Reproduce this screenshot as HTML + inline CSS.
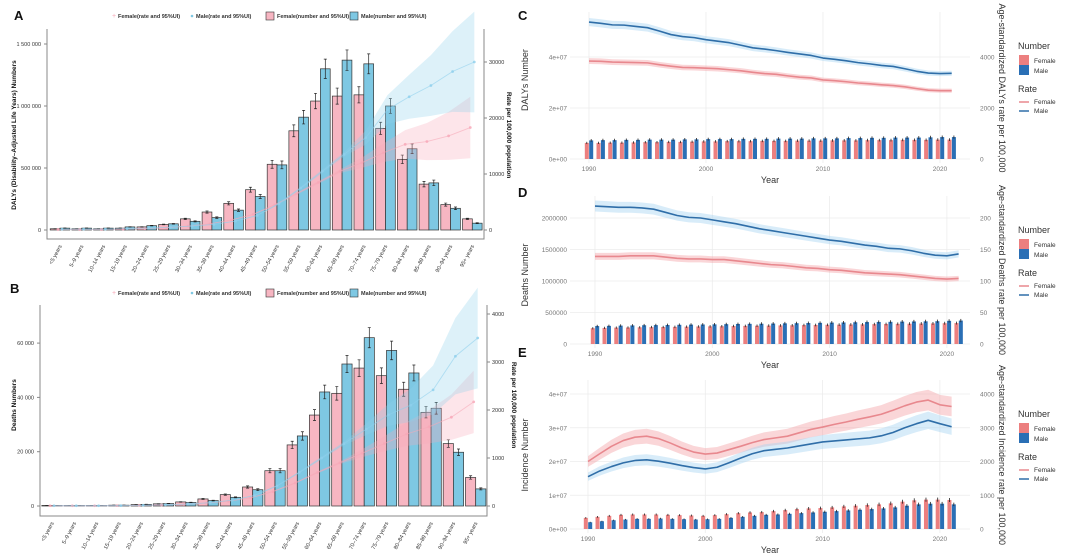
<!DOCTYPE html>
<html><head><meta charset="utf-8">
<style>
html,body{margin:0;padding:0;background:#fff;}
svg{display:block;font-family:"Liberation Sans",Arial,sans-serif;}
</style></head>
<body>
<svg id="fig" width="1080" height="559" viewBox="0 0 1080 559" xmlns="http://www.w3.org/2000/svg"></svg>
<script>
// ---------- Data: panels A & B (age groups) ----------
const ageLabels = ["<5 years","5–9 years","10–14 years","15–19 years","20–24 years","25–29 years","30–34 years","35–39 years","40–44 years","45–49 years","50–54 years","55–59 years","60–64 years","65–69 years","70–74 years","75–79 years","80–84 years","85–89 years","90–94 years","95+ years"];
const dalyFemaleNum = [10,10,10,15,25,45,90,145,215,325,530,800,1040,1080,1090,820,570,370,205,90]; // thousands
const dalyMaleNum   = [15,15,15,25,35,50,70,100,160,270,525,910,1300,1370,1340,1000,655,380,175,55];
const dalyFemaleRate = [100,100,100,150,250,400,700,1100,1800,2800,4500,6500,8500,10500,12000,13800,15300,15800,16800,18300];
const dalyMaleRate   = [150,150,150,250,350,500,700,1000,1600,2600,4700,7500,10500,13500,16500,21500,23800,25800,28300,30000];
const deathFemaleNum = [0.2,0.2,0.2,0.3,0.5,0.8,1.5,2.6,4.2,7,13,22.5,33.5,41.5,50.8,48,43,34.5,23,10.5]; // thousands
const deathMaleNum   = [0.2,0.2,0.2,0.3,0.6,0.9,1.3,2,3.2,6,13,25.8,42,52.3,62,57.3,49,36,19.8,6.3];
const deathFemaleRate = [5,5,5,8,12,20,35,60,100,170,300,480,700,900,1100,1300,1500,1650,1850,2170];
const deathMaleRate   = [5,5,5,8,15,25,40,70,120,220,420,700,1000,1300,1600,1900,2100,2420,3120,3500];
const dalyLeftTicks = [0,500000,1000000,1500000];
const dalyLeftTickLabels = ["0","500 000","1 000 000","1 500 000"];
const dalyRightTicks = [0,10000,20000,30000];
const deathLeftTicks = [0,20000,40000,60000];
const deathLeftTickLabels = ["0","20 000","40 000","60 000"];
const deathRightTicks = [0,1000,2000,3000,4000];

// ---------- Data: panels C, D, E (years 1990-2021) ----------
const years = [1990,1991,1992,1993,1994,1995,1996,1997,1998,1999,2000,2001,2002,2003,2004,2005,2006,2007,2008,2009,2010,2011,2012,2013,2014,2015,2016,2017,2018,2019,2020,2021];
const cMaleRate   = [5370,5320,5260,5250,5200,5150,5020,4880,4800,4760,4680,4620,4560,4460,4360,4310,4250,4180,4120,4060,3960,3910,3850,3780,3730,3670,3630,3540,3440,3370,3350,3360];
const cFemaleRate = [3840,3830,3800,3790,3780,3770,3700,3640,3590,3580,3560,3540,3500,3460,3400,3350,3320,3260,3210,3180,3100,3070,3030,2980,2950,2910,2880,2830,2760,2700,2680,2680];
const cFemaleNum  = [6.3,6.3,6.4,6.4,6.5,6.6,6.6,6.7,6.7,6.8,6.9,6.9,7.0,7.0,7.0,7.1,7.1,7.1,7.2,7.2,7.2,7.3,7.3,7.3,7.4,7.4,7.4,7.5,7.5,7.5,7.6,7.6]; // millions
const cMaleNum    = [7.3,7.4,7.4,7.5,7.5,7.6,7.6,7.6,7.7,7.7,7.8,7.8,7.8,7.9,7.9,7.9,8.0,8.0,8.0,8.1,8.1,8.1,8.2,8.2,8.3,8.3,8.4,8.4,8.4,8.5,8.6,8.6];
const dMaleRate   = [219,218,217,217,216,214,209,204,201,200,197,194,191,187,183,180,177,174,171,168,165,163,160,157,155,152,151,148,144,141,140,143];
const dFemaleRate = [139,139,139,140,140,140,138,136,135,135,134,134,132,130,128,126,125,123,121,120,118,117,115,113,112,111,110,108,106,104,103,104];
const dFemaleNum  = [250,255,260,262,265,268,270,272,275,278,280,282,285,287,290,292,295,297,300,302,305,307,310,312,315,318,320,322,325,327,330,332]; // thousands
const dMaleNum    = [285,288,292,295,298,300,302,305,308,310,312,315,318,320,322,325,328,330,333,336,340,342,345,348,350,352,356,358,360,362,368,372];
const eFemaleRate = [2000,2230,2450,2620,2720,2750,2680,2550,2400,2280,2220,2250,2350,2450,2560,2650,2700,2750,2850,2950,3020,3100,3170,3250,3320,3400,3520,3650,3760,3820,3680,3630];
const eMaleRate   = [1550,1720,1850,1960,2030,2050,2010,1950,1880,1820,1780,1830,1960,2100,2230,2320,2360,2400,2460,2520,2580,2610,2640,2670,2700,2760,2860,3000,3120,3220,3120,3030];
const eFemaleNum  = [3.3,3.6,3.9,4.2,4.3,4.3,4.3,4.2,4.1,4.0,3.9,4.1,4.4,4.7,4.9,5.0,5.3,5.6,5.9,6.1,6.2,6.4,6.7,6.9,7.1,7.3,7.6,8.1,8.5,8.7,8.7,8.6]; // millions
const eMaleNum    = [2.0,2.3,2.6,2.8,3.0,3.0,3.1,3.0,2.9,2.8,2.9,3.0,3.3,3.6,3.9,4.2,4.3,4.5,4.7,4.9,5.1,5.3,5.5,5.7,5.9,6.1,6.4,6.9,7.3,7.5,7.5,7.3];
const yearTicks = [1990,2000,2010,2020];
const cLeftTickLabels = ["0e+00","2e+07","4e+07"];
const cRightTicks = [0,2000,4000];
const dLeftTickLabels = ["0","500000","1000000","1500000","2000000"];
const dRightTicks = [0,50,100,150,200];
const eLeftTickLabels = ["0e+00","1e+07","2e+07","3e+07","4e+07"];
const eRightTicks = [0,1000,2000,3000,4000];

const NS = "http://www.w3.org/2000/svg";
const svg = document.getElementById("fig");
function el(tag, attrs, parent, txt){
  const e = document.createElementNS(NS, tag);
  for (const k in attrs) e.setAttribute(k, attrs[k]);
  if (txt !== undefined) e.textContent = txt;
  (parent || svg).appendChild(e);
  return e;
}
function grp(name, parent){
  const g = document.createElementNS(NS, "g");
  
  
  (parent || svg).appendChild(g);
  return g;
}
function label(parent, x, y, t, size, opts){
  const o = opts || {};
  const e = el("text", {x:x, y:y, "font-size":size, fill:o.fill||"#333", "text-anchor":o.anchor||"start", "font-weight":o.bold?"bold":"normal"}, parent, t);
  if (o.rot !== undefined) e.setAttribute("transform", `rotate(${o.rot} ${x} ${y})`);
  
  
  return e;
}

// ---------- Age panels ----------
function agePanel(cfg){
  const g = grp(cfg.name);
  const xC = i => cfg.x0 + i*cfg.dx;
  const yL = v => cfg.y0 - v*cfg.kL;
  const yR = v => cfg.y0 - v*cfg.kR;
  const band = i => 0.03 + Math.max(0, i-13)*0.045;
  label(g, cfg.letterX, cfg.letterY, cfg.letter, 13, {fill:"#111", bold:true, name:'panel-letter'});
  const fr = el("path", {d:`M${cfg.fx0},${cfg.fy0}V${cfg.fy1}H${cfg.fx1}V${cfg.fy0}`, fill:"none", stroke:"#888", "stroke-width":1}, g);
  
  
  cfg.lTicks.forEach((t,i)=>{
    el("line",{x1:cfg.fx0-3,x2:cfg.fx0,y1:yL(t),y2:yL(t),stroke:"#888"},g);
    label(g, cfg.fx0-6, yL(t)+2, cfg.lLabels[i], 5.5, {anchor:"end", name:'y-tick-label'});
  });
  cfg.rTicks.forEach(t=>{
    el("line",{x1:cfg.fx1,x2:cfg.fx1+3,y1:yR(t),y2:yR(t),stroke:"#888"},g);
    label(g, cfg.fx1+5, yR(t)+2, String(t), 5.5, {name:'y2-tick-label'});
  });
  const bw = cfg.bw;
  ageLabels.forEach((a,i)=>{
    [[cfg.fNum[i],"#f7b6c2",-1,"bar-female"],[cfg.mNum[i],"#7ec8e3",0,"bar-male"]].forEach(([v,c,off,nm])=>{
      const x = xC(i) + off*bw;
      const r = el("rect",{x:x,y:yL(v),width:bw,height:cfg.y0-yL(v),fill:c,stroke:"#333","stroke-width":0.7},g);
      
      
      const e1 = yL(v*1.06), e2 = yL(v*0.94), cx = x+bw/2;
      el("path",{d:`M${cx},${e1}V${e2}M${cx-1.5},${e1}H${cx+1.5}M${cx-1.5},${e2}H${cx+1.5}`,stroke:"#222","stroke-width":0.7,fill:"none"},g);
    });
  });
  [[cfg.fRate,"#f7a8b8",-2,"female-rate"],[cfg.mRate,"#8fd0ec",2,"male-rate"]].forEach(([arr,c,off,nm])=>{
    let up="", lo="";
    arr.forEach((v,i)=>{ up += (i?"L":"M")+(xC(i)+off)+","+yR(v*(1+band(i))); });
    for(let i=arr.length-1;i>=0;i--) lo += "L"+(xC(i)+off)+","+yR(arr[i]*(1-band(i)));
    const rb = el("path",{d:up+lo+"Z",fill:c,opacity:0.3},g);
    
    
    let d=""; arr.forEach((v,i)=>{ d += (i?"L":"M")+(xC(i)+off)+","+yR(v); });
    const ln = el("path",{d:d,fill:"none",stroke:c,"stroke-width":0.9,opacity:0.6},g);
    
    
    arr.forEach((v,i)=>{
      const p = el("circle",{cx:xC(i)+off,cy:yR(v),r:1.4,fill:c,opacity:0.8},g);
      
      
    });
  });
  ageLabels.forEach((a,i)=>{
    label(g, xC(i)+2, cfg.fy1+7, a, 5.5, {anchor:"end", rot:-62, name:'x-tick-label'});
  });
  label(g, cfg.ltX, cfg.ltY, cfg.lTitle, 6.5, {anchor:"middle", rot:-90, bold:true, fill:"#111", name:'y-axis-title'});
  label(g, cfg.rtX, cfg.ltY, "Rate per 100,000 population", 6.5, {anchor:"middle", rot:90, bold:true, fill:"#111", name:'y2-axis-title'});
  const ly = cfg.legY;
  label(g, 112, ly+2, "+", 7, {fill:"#f7a8b8", name:'legend-marker'});
  label(g, 118, ly+2, "Female(rate and 95%UI)", 5.5, {bold:true, fill:"#333", name:'legend-entry'});
  el("circle",{cx:192,cy:ly,r:1.3,fill:"#7ec8e3"},g);
  label(g, 196, ly+2, "Male(rate and 95%UI)", 5.5, {bold:true, fill:"#333", name:'legend-entry'});
  el("rect",{x:266,y:ly-4,width:8,height:8,fill:"#f7b6c2",stroke:"#333","stroke-width":0.6},g);
  label(g, 277, ly+2, "Female(number and 95%UI)", 5.5, {bold:true, fill:"#333", name:'legend-entry'});
  el("rect",{x:350,y:ly-4,width:8,height:8,fill:"#7ec8e3",stroke:"#333","stroke-width":0.6},g);
  label(g, 361, ly+2, "Male(number and 95%UI)", 5.5, {bold:true, fill:"#333", name:'legend-entry'});
}

agePanel({name:"panel-a", letter:"A", letterX:14, letterY:20, x0:60, dx:21.7, bw:9.8, y0:230,
  kL:62/500000, kR:56/10000, fx0:47, fx1:484, fy0:29, fy1:239,
  fNum:dalyFemaleNum.map(v=>v*1000), mNum:dalyMaleNum.map(v=>v*1000), fRate:dalyFemaleRate, mRate:dalyMaleRate,
  lTicks:dalyLeftTicks, lLabels:dalyLeftTickLabels, rTicks:dalyRightTicks,
  lTitle:"DALYs (Disability–Adjusted Life Years) Numbers", ltX:16, ltY:135, rtX:507, legY:16});
agePanel({name:"panel-b", letter:"B", letterX:10, letterY:293, x0:52, dx:22.3, bw:10.2, y0:506,
  kL:54.3/20000, kR:48/1000, fx0:40, fx1:487, fy0:305, fy1:516,
  fNum:deathFemaleNum.map(v=>v*1000), mNum:deathMaleNum.map(v=>v*1000), fRate:deathFemaleRate, mRate:deathMaleRate,
  lTicks:deathLeftTicks, lLabels:deathLeftTickLabels, rTicks:deathRightTicks,
  lTitle:"Deaths Numbers", ltX:16, ltY:405, rtX:512, legY:293});

// ---------- Time panels ----------
function timePanel(cfg){
  const g = grp(cfg.name);
  const xY = y => cfg.x1990 + (y-1990)*cfg.kx;
  const yL = v => cfg.y0 - v*cfg.kL;
  const yR = v => cfg.y0 - v*cfg.kR;
  label(g, 518, cfg.letterY, cfg.letter, 13, {fill:"#111", bold:true, name:'panel-letter'});
  cfg.lVals.forEach((t,i)=>{
    el("line",{x1:cfg.gx0,x2:cfg.gx1,y1:yL(t),y2:yL(t),stroke:"#ececec","stroke-width":0.8},g);
    label(g, 567, yL(t)+2.5, cfg.lLabels[i], 6.5, {anchor:"end", fill:"#777", name:'y-tick-label'});
  });
  cfg.rTicks.forEach(t=>label(g, 980, yR(t)+2.5, String(t), 6.5, {fill:"#777", name:'y2-tick-label'}));
  yearTicks.forEach(y=>{
    el("line",{x1:xY(y),x2:xY(y),y1:cfg.gy0,y2:cfg.y0+4,stroke:"#ececec","stroke-width":0.8},g);
    label(g, xY(y), cfg.y0+12, String(y), 6.5, {anchor:"middle", fill:"#777", name:'x-tick-label'});
  });
  years.forEach((y,i)=>{
    [[cfg.fNum[i],"#ec7f7f",-4.2,"bar-female"],[cfg.mNum[i],"#2a6fb5",0.2,"bar-male"]].forEach(([v,c,off,nm])=>{
      const x = xY(y)+off;
      const r = el("rect",{x:x,y:yL(v),width:4,height:cfg.y0-yL(v),fill:c},g);
      
      
      el("line",{x1:x+2,x2:x+2,y1:yL(v*1.07),y2:yL(v*0.93),stroke:"#222","stroke-width":0.8},g);
    });
  });
  [[cfg.fRate,"#f4a3a8","#e8888e","female-rate"],[cfg.mRate,"#a8d4f2","#2f6ea8","male-rate"]].forEach(([arr,rc,lc,nm])=>{
    let up="", lo="";
    arr.forEach((v,i)=>{ up += (i?"L":"M")+xY(years[i])+","+yR(v*(1+cfg.band)); });
    for(let i=arr.length-1;i>=0;i--) lo += "L"+xY(years[i])+","+yR(arr[i]*(1-cfg.band));
    const rb = el("path",{d:up+lo+"Z",fill:rc,opacity:0.45},g);
    
    
    let d=""; arr.forEach((v,i)=>{ d += (i?"L":"M")+xY(years[i])+","+yR(v); });
    const ln = el("path",{d:d,fill:"none",stroke:lc,"stroke-width":1.6,"stroke-linejoin":"round"},g);
    
    
  });
  label(g, 770, cfg.y0+24, "Year", 9, {anchor:"middle", fill:"#333", name:'x-axis-title'});
  label(g, 528, cfg.titleY, cfg.lTitle, 9, {anchor:"middle", rot:-90, fill:"#333", name:'y-axis-title'});
  label(g, 999, cfg.rTitleY, cfg.rTitle, 9, {anchor:"middle", rot:90, fill:"#333", name:'y2-axis-title'});
  const ly = cfg.legY;
  label(g, 1018, ly, "Number", 9, {fill:"#333", name:'legend-title'});
  el("rect",{x:1019,y:ly+6,width:10,height:10,fill:"#ec7f7f"},g);
  label(g, 1034, ly+14, "Female", 6.5, {fill:"#333", name:'legend-entry'});
  el("rect",{x:1019,y:ly+16,width:10,height:10,fill:"#2a6fb5"},g);
  label(g, 1034, ly+24, "Male", 6.5, {fill:"#333", name:'legend-entry'});
  label(g, 1018, ly+43, "Rate", 9, {fill:"#333", name:'legend-title'});
  el("line",{x1:1019,x2:1029,y1:ly+53,y2:ly+53,stroke:"#e8888e","stroke-width":1.5},g);
  label(g, 1034, ly+55, "Female", 6.5, {fill:"#333", name:'legend-entry'});
  el("line",{x1:1019,x2:1029,y1:ly+62,y2:ly+62,stroke:"#2f6ea8","stroke-width":1.5},g);
  label(g, 1034, ly+64, "Male", 6.5, {fill:"#333", name:'legend-entry'});
}

timePanel({name:"panel-c", letter:"C", letterY:20, x1990:589, kx:11.7, y0:159, kL:51/2e7, kR:51/2000,
  lVals:[0,2e7,4e7], lLabels:cLeftTickLabels, rTicks:cRightTicks, gx0:570, gx1:970, gy0:12,
  fNum:cFemaleNum.map(v=>v*1e6), mNum:cMaleNum.map(v=>v*1e6), fRate:cFemaleRate, mRate:cMaleRate, band:0.03,
  lTitle:"DALYs Number", titleY:80, rTitle:"Age-standardized DALYs rate per 100,000", rTitleY:88, legY:49});
timePanel({name:"panel-d", letter:"D", letterY:197, x1990:595, kx:11.73, y0:344, kL:31.5/500000, kR:31.5/50,
  lVals:[0,500000,1000000,1500000,2000000], lLabels:dLeftTickLabels, rTicks:dRightTicks, gx0:570, gx1:970, gy0:196,
  fNum:dFemaleNum.map(v=>v*1000), mNum:dMaleNum.map(v=>v*1000), fRate:dFemaleRate, mRate:dMaleRate, band:0.04,
  lTitle:"Deaths Number", titleY:275, rTitle:"Age-standardized Deaths rate per 100,000", rTitleY:270, legY:233});
timePanel({name:"panel-e", letter:"E", letterY:357, x1990:588, kx:11.73, y0:529, kL:33.75/1e7, kR:33.75/1000,
  lVals:[0,1e7,2e7,3e7,4e7], lLabels:eLeftTickLabels, rTicks:eRightTicks, gx0:570, gx1:970, gy0:380,
  fNum:eFemaleNum.map(v=>v*1e6), mNum:eMaleNum.map(v=>v*1e6), fRate:eFemaleRate, mRate:eMaleRate, band:0.08,
  lTitle:"Incidence Number", titleY:455, rTitle:"Age-standardized Incidence rate per 100,000", rTitleY:455, legY:417});
</script>
</body></html>
